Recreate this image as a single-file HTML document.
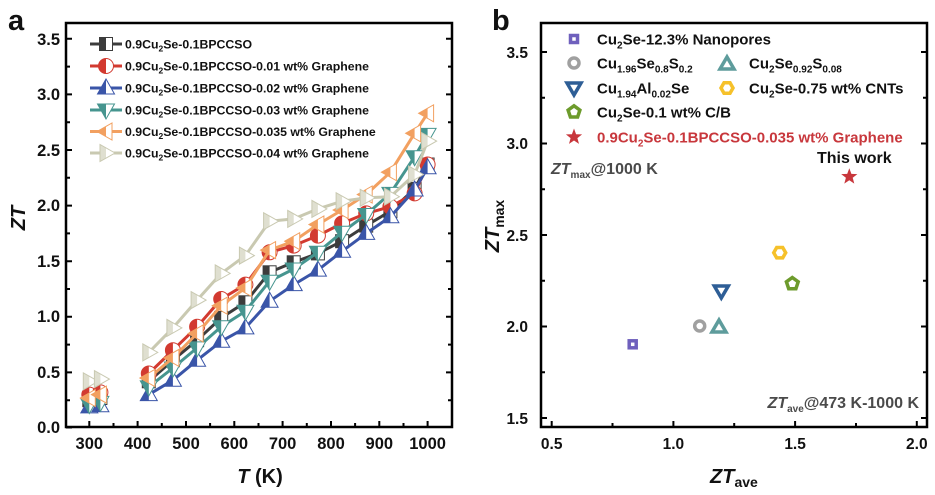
<!DOCTYPE html>
<html><head><meta charset="utf-8"><style>
html,body{margin:0;padding:0;background:#fff;}
svg{display:block;font-family:"Liberation Sans",Arial,sans-serif;}
</style></head><body>
<svg width="935" height="495" viewBox="0 0 935 495" xmlns="http://www.w3.org/2000/svg">
<defs>
<g id="mSq"><rect x="-6.5" y="-6.5" width="13" height="13" fill="#fff" stroke="currentColor" stroke-width="1"/><rect x="-6.5" y="-6.5" width="6.5" height="13" fill="currentColor"/></g>
<g id="mCi"><circle r="7.5" fill="#fff" stroke="currentColor" stroke-width="1"/><path d="M0,-7.5A7.5,7.5 0 0 0 0,7.5Z" fill="currentColor"/></g>
<g id="mUp"><polygon points="0,-9 8.5,6 -8.5,6" fill="#fff" stroke="currentColor" stroke-width="1"/><polygon points="0,-9 0,6 -8.5,6" fill="currentColor"/></g>
<g id="mDn"><polygon points="0,9 8.5,-6 -8.5,-6" fill="#fff" stroke="currentColor" stroke-width="1"/><polygon points="0,9 0,-6 -8.5,-6" fill="currentColor"/></g>
<g id="mLt"><polygon points="-9,0 6,-8.5 6,8.5" fill="#fff" stroke="currentColor" stroke-width="1"/><polygon points="-9,0 0,-5.1 0,5.1" fill="currentColor"/></g>
<g id="mRt"><polygon points="9,0 -6,-8.5 -6,8.5" fill="#fff" stroke="currentColor" stroke-width="1"/><polygon points="-6,-8.5 0,-5.1 0,5.1 -6,8.5" fill="currentColor" opacity="0.6"/></g>
</defs>

<!-- ================= PANEL A ================= -->
<text x="8" y="30" font-size="29" font-weight="bold" fill="#111">a</text>
<rect x="66" y="23" width="386" height="404" fill="none" stroke="#000" stroke-width="2.5"/>
<g stroke="#000" stroke-width="2">
<path d="M66,427.5h6M66,372.4h6M66,316.8h6M66,261.2h6M66,205.6h6M66,150h6M66,94.4h6M66,38.8h6"/>
<path d="M66,400.2h4M66,344.6h4M66,289h4M66,233.4h4M66,177.8h4M66,122.2h4M66,66.6h4"/>
<path d="M452,372.4h-6M452,316.8h-6M452,261.2h-6M452,205.6h-6M452,150h-6M452,94.4h-6M452,38.8h-6"/>
<path d="M452,400.2h-4M452,344.6h-4M452,289h-4M452,233.4h-4M452,177.8h-4M452,122.2h-4M452,66.6h-4"/>
<path d="M89.3,427v-6M137.6,427v-6M186,427v-6M234.3,427v-6M282.6,427v-6M331,427v-6M379.3,427v-6M427.6,427v-6"/>
<path d="M113.5,427v-4M161.8,427v-4M210.1,427v-4M258.5,427v-4M306.8,427v-4M355.1,427v-4M403.5,427v-4"/>
</g>
<g font-size="16.5" font-weight="bold" fill="#111" text-anchor="end">
<text x="60" y="433">0.0</text>
<text x="60" y="378">0.5</text>
<text x="60" y="322">1.0</text>
<text x="60" y="267">1.5</text>
<text x="60" y="211">2.0</text>
<text x="60" y="156">2.5</text>
<text x="60" y="100">3.0</text>
<text x="60" y="45">3.5</text>
</g>
<g font-size="16.5" font-weight="bold" fill="#111" text-anchor="middle">
<text x="89.3" y="449">300</text>
<text x="137.6" y="449">400</text>
<text x="186" y="449">500</text>
<text x="234.3" y="449">600</text>
<text x="282.6" y="449">700</text>
<text x="331" y="449">800</text>
<text x="379.3" y="449">900</text>
<text x="427.6" y="449">1000</text>
</g>
<text x="260" y="483" font-size="20" font-weight="bold" fill="#111" text-anchor="middle"><tspan font-style="italic">T</tspan> (K)</text>
<text transform="translate(25,218) rotate(-90)" font-size="20" font-weight="bold" font-style="italic" fill="#111" text-anchor="middle">ZT</text>

<!-- legend a -->
<g stroke-width="3" fill="none">
<path d="M90,44H122" stroke="#3c3c3c"/>
<path d="M90,66H122" stroke="#d23a30"/>
<path d="M90,88H122" stroke="#3a55a8"/>
<path d="M90,110H122" stroke="#46958f"/>
<path d="M90,131.5H122" stroke="#f2a060"/>
<path d="M90,153H122" stroke="#c9c9b1"/>
</g>
<use href="#mSq" x="106" y="44" style="color:#3c3c3c"/>
<use href="#mCi" x="106" y="66" style="color:#d23a30"/>
<use href="#mUp" x="106" y="88" style="color:#3a55a8"/>
<use href="#mDn" x="106" y="110" style="color:#46958f"/>
<use href="#mLt" x="106" y="131.5" style="color:#f2a060"/>
<use href="#mRt" x="106" y="153" style="color:#c9c9b1"/>
<g font-size="12.3" font-weight="bold" fill="#111">
<text x="125" y="48.5">0.9Cu<tspan font-size="8.5" dy="3">2</tspan><tspan dy="-3">Se-0.1BPCCSO</tspan></text>
<text x="125" y="70.5">0.9Cu<tspan font-size="8.5" dy="3">2</tspan><tspan dy="-3">Se-0.1BPCCSO-0.01 wt% Graphene</tspan></text>
<text x="125" y="92.5">0.9Cu<tspan font-size="8.5" dy="3">2</tspan><tspan dy="-3">Se-0.1BPCCSO-0.02 wt% Graphene</tspan></text>
<text x="125" y="114.5">0.9Cu<tspan font-size="8.5" dy="3">2</tspan><tspan dy="-3">Se-0.1BPCCSO-0.03 wt% Graphene</tspan></text>
<text x="125" y="136">0.9Cu<tspan font-size="8.5" dy="3">2</tspan><tspan dy="-3">Se-0.1BPCCSO-0.035 wt% Graphene</tspan></text>
<text x="125" y="157.5">0.9Cu<tspan font-size="8.5" dy="3">2</tspan><tspan dy="-3">Se-0.1BPCCSO-0.04 wt% Graphene</tspan></text>
</g>

<!-- series a -->
<g fill="none" stroke-width="3" stroke-linejoin="round" stroke="#3c3c3c">
<polyline points="89.3,400.2 100.4,398"/>
<polyline points="148.8,381.3 172.9,360.2 197.1,340.2 221.2,317.9 245.4,302.3 269.6,272.3 293.7,262.3 317.9,253.4 342.1,241.2 366.2,225.6 390.4,211.2 414.6,188.9 427.6,164.5"/>
</g>
<g style="color:#3c3c3c">
<use href="#mSq" x="89.3" y="400.2"/><use href="#mSq" x="100.4" y="398"/><use href="#mSq" x="148.8" y="381.3"/><use href="#mSq" x="172.9" y="360.2"/><use href="#mSq" x="197.1" y="340.2"/><use href="#mSq" x="221.2" y="317.9"/><use href="#mSq" x="245.4" y="302.3"/><use href="#mSq" x="269.6" y="272.3"/><use href="#mSq" x="293.7" y="262.3"/><use href="#mSq" x="317.9" y="253.4"/><use href="#mSq" x="342.1" y="241.2"/><use href="#mSq" x="366.2" y="225.6"/><use href="#mSq" x="390.4" y="211.2"/><use href="#mSq" x="414.6" y="188.9"/><use href="#mSq" x="427.6" y="164.5"/>
</g>

<g fill="none" stroke-width="3" stroke-linejoin="round" stroke="#d23a30">
<polyline points="89.3,394.6 100.4,392.4"/>
<polyline points="148.8,373.5 172.9,350.2 197.1,326.8 221.2,299 245.4,284.6 269.6,252.3 293.7,245.6 317.9,235.6 342.1,223.4 366.2,213.4 390.4,206.7 414.6,193.4 427.6,164.5"/>
</g>
<g style="color:#d23a30">
<use href="#mCi" x="89.3" y="394.6"/><use href="#mCi" x="100.4" y="392.4"/><use href="#mCi" x="148.8" y="373.5"/><use href="#mCi" x="172.9" y="350.2"/><use href="#mCi" x="197.1" y="326.8"/><use href="#mCi" x="221.2" y="299"/><use href="#mCi" x="245.4" y="284.6"/><use href="#mCi" x="269.6" y="252.3"/><use href="#mCi" x="293.7" y="245.6"/><use href="#mCi" x="317.9" y="235.6"/><use href="#mCi" x="342.1" y="223.4"/><use href="#mCi" x="366.2" y="213.4"/><use href="#mCi" x="390.4" y="206.7"/><use href="#mCi" x="414.6" y="193.4"/><use href="#mCi" x="427.6" y="164.5"/>
</g>

<g fill="none" stroke-width="3" stroke-linejoin="round" stroke="#3a55a8">
<polyline points="89.3,406.9 100.4,405.8"/>
<polyline points="148.8,394.6 172.9,380.2 197.1,360.2 221.2,341.3 245.4,327.9 269.6,301.2 293.7,284.6 317.9,270.1 342.1,251.2 366.2,233.4 390.4,216.7 414.6,190 427.6,167.8"/>
</g>
<g style="color:#3a55a8">
<use href="#mUp" x="89.3" y="406.9"/><use href="#mUp" x="100.4" y="405.8"/><use href="#mUp" x="148.8" y="394.6"/><use href="#mUp" x="172.9" y="380.2"/><use href="#mUp" x="197.1" y="360.2"/><use href="#mUp" x="221.2" y="341.3"/><use href="#mUp" x="245.4" y="327.9"/><use href="#mUp" x="269.6" y="301.2"/><use href="#mUp" x="293.7" y="284.6"/><use href="#mUp" x="317.9" y="270.1"/><use href="#mUp" x="342.1" y="251.2"/><use href="#mUp" x="366.2" y="233.4"/><use href="#mUp" x="390.4" y="216.7"/><use href="#mUp" x="414.6" y="190"/><use href="#mUp" x="427.6" y="167.8"/>
</g>

<g fill="none" stroke-width="3" stroke-linejoin="round" stroke="#46958f">
<polyline points="89.3,404.6 100.4,402.4"/>
<polyline points="148.8,386.9 172.9,368 197.1,347.9 221.2,326.8 245.4,311.2 269.6,281.2 293.7,269 317.9,252.3 342.1,232.3 366.2,214.5 390.4,193.4 414.6,156.7 427.6,134.4"/>
</g>
<g style="color:#46958f">
<use href="#mDn" x="89.3" y="404.6"/><use href="#mDn" x="100.4" y="402.4"/><use href="#mDn" x="148.8" y="386.9"/><use href="#mDn" x="172.9" y="368"/><use href="#mDn" x="197.1" y="347.9"/><use href="#mDn" x="221.2" y="326.8"/><use href="#mDn" x="245.4" y="311.2"/><use href="#mDn" x="269.6" y="281.2"/><use href="#mDn" x="293.7" y="269"/><use href="#mDn" x="317.9" y="252.3"/><use href="#mDn" x="342.1" y="232.3"/><use href="#mDn" x="366.2" y="214.5"/><use href="#mDn" x="390.4" y="193.4"/><use href="#mDn" x="414.6" y="156.7"/><use href="#mDn" x="427.6" y="134.4"/>
</g>

<g fill="none" stroke-width="3" stroke-linejoin="round" stroke="#f2a060">
<polyline points="89.3,398 100.4,394.6"/>
<polyline points="148.8,378 172.9,357.9 197.1,333.5 221.2,305.7 245.4,287.9 269.6,250.1 293.7,241.2 317.9,224.5 342.1,210 366.2,194.5 390.4,172.2 414.6,133.3 427.6,113.3"/>
</g>
<g style="color:#f2a060">
<use href="#mLt" x="89.3" y="398"/><use href="#mLt" x="100.4" y="394.6"/><use href="#mLt" x="148.8" y="378"/><use href="#mLt" x="172.9" y="357.9"/><use href="#mLt" x="197.1" y="333.5"/><use href="#mLt" x="221.2" y="305.7"/><use href="#mLt" x="245.4" y="287.9"/><use href="#mLt" x="269.6" y="250.1"/><use href="#mLt" x="293.7" y="241.2"/><use href="#mLt" x="317.9" y="224.5"/><use href="#mLt" x="342.1" y="210"/><use href="#mLt" x="366.2" y="194.5"/><use href="#mLt" x="390.4" y="172.2"/><use href="#mLt" x="414.6" y="133.3"/><use href="#mLt" x="427.6" y="113.3"/>
</g>

<g fill="none" stroke-width="3" stroke-linejoin="round" stroke="#c9c9b1">
<polyline points="89.3,381.3 100.4,379.1"/>
<polyline points="148.8,352.4 172.9,327.9 197.1,300.1 221.2,273.4 245.4,255.6 269.6,221.2 293.7,218.9 317.9,208.9 342.1,201.2 366.2,197.8 390.4,196.7 414.6,174.5 427.6,141.1"/>
</g>
<g style="color:#c9c9b1">
<use href="#mRt" x="89.3" y="381.3"/><use href="#mRt" x="100.4" y="379.1"/><use href="#mRt" x="148.8" y="352.4"/><use href="#mRt" x="172.9" y="327.9"/><use href="#mRt" x="197.1" y="300.1"/><use href="#mRt" x="221.2" y="273.4"/><use href="#mRt" x="245.4" y="255.6"/><use href="#mRt" x="269.6" y="221.2"/><use href="#mRt" x="293.7" y="218.9"/><use href="#mRt" x="317.9" y="208.9"/><use href="#mRt" x="342.1" y="201.2"/><use href="#mRt" x="366.2" y="197.8"/><use href="#mRt" x="390.4" y="196.7"/><use href="#mRt" x="414.6" y="174.5"/><use href="#mRt" x="427.6" y="141.1"/>
</g>

<!-- ================= PANEL B ================= -->
<text x="492" y="30" font-size="29" font-weight="bold" fill="#111">b</text>
<rect x="541" y="23" width="386" height="404" fill="none" stroke="#000" stroke-width="2.5"/>
<g stroke="#000" stroke-width="2">
<path d="M541,418h6M541,326.5h6M541,235h6M541,143.5h6M541,52h6"/>
<path d="M541,372.3h4M541,280.8h4M541,189.3h4M541,97.8h4"/>
<path d="M927,418h-6M927,326.5h-6M927,235h-6M927,143.5h-6M927,52h-6"/>
<path d="M927,372.3h-4M927,280.8h-4M927,189.3h-4M927,97.8h-4"/>
<path d="M551.7,427v-6M673.4,427v-6M795.1,427v-6M916.8,427v-6"/>
<path d="M612.5,427v-4M734.2,427v-4M856,427v-4"/>
</g>
<g font-size="15.5" font-weight="bold" fill="#111" text-anchor="end">
<text x="528" y="424">1.5</text>
<text x="528" y="332">2.0</text>
<text x="528" y="241">2.5</text>
<text x="528" y="149">3.0</text>
<text x="528" y="58">3.5</text>
</g>
<g font-size="15.5" font-weight="bold" fill="#111" text-anchor="middle">
<text x="551.7" y="449">0.5</text>
<text x="673.4" y="449">1.0</text>
<text x="795.1" y="449">1.5</text>
<text x="916.8" y="449">2.0</text>
</g>
<text x="710" y="483" font-size="20" font-weight="bold" fill="#111"><tspan font-style="italic">ZT</tspan><tspan font-size="14" dy="4">ave</tspan></text>
<text transform="translate(499,226) rotate(-90)" font-size="20" font-weight="bold" fill="#111" text-anchor="middle"><tspan font-style="italic">ZT</tspan><tspan font-size="14" dy="5">max</tspan></text>

<!-- legend b markers -->
<g fill="none" stroke-width="3.5" stroke-linejoin="miter">
<rect x="570.5" y="35.5" width="7" height="7" stroke="#6f60bd"/>
<circle cx="574" cy="63" r="5" stroke="#a0a0a0"/>
<polygon points="727,57 734,69 720,69" stroke="#5e9c9c"/>
<polygon points="567,83 581,83 574,95" stroke="#2e5e96"/>
<polygon points="733,88 730,93.2 724,93.2 721,88 724,82.8 730,82.8" stroke="#f6c12a"/>
<polygon points="574,105.8 579.9,110.1 577.6,117 570.4,117 568.1,110.1" stroke="#6d9b2c"/>
</g>
<polygon points="574,128.5 576.1,134.2 582.1,134.4 577.4,138.1 579,143.9 574,140.5 569,143.9 570.6,138.1 565.9,134.4 571.9,134.2" fill="#c8373c"/>
<g font-size="15" font-weight="bold" fill="#111">
<text x="597" y="44.5">Cu<tspan font-size="10" dy="4">2</tspan><tspan dy="-4">Se-12.3% Nanopores</tspan></text>
<text x="597" y="68.5">Cu<tspan font-size="10" dy="4">1.96</tspan><tspan dy="-4">Se</tspan><tspan font-size="10" dy="4">0.8</tspan><tspan dy="-4">S</tspan><tspan font-size="10" dy="4">0.2</tspan></text>
<text x="749" y="68.5">Cu<tspan font-size="10" dy="4">2</tspan><tspan dy="-4">Se</tspan><tspan font-size="10" dy="4">0.92</tspan><tspan dy="-4">S</tspan><tspan font-size="10" dy="4">0.08</tspan></text>
<text x="597" y="93.5">Cu<tspan font-size="10" dy="4">1.94</tspan><tspan dy="-4">Al</tspan><tspan font-size="10" dy="4">0.02</tspan><tspan dy="-4">Se</tspan></text>
<text x="749" y="93.5">Cu<tspan font-size="10" dy="4">2</tspan><tspan dy="-4">Se-0.75 wt% CNTs</tspan></text>
<text x="597" y="117.5">Cu<tspan font-size="10" dy="4">2</tspan><tspan dy="-4">Se-0.1 wt% C/B</tspan></text>
<text x="597" y="142.5" fill="#c8373c">0.9Cu<tspan font-size="10" dy="4">2</tspan><tspan dy="-4">Se-0.1BPCCSO-0.035 wt% Graphene</tspan></text>
</g>

<!-- annotations b -->
<text x="551" y="174" font-size="16" font-weight="bold" fill="#4a4a4a"><tspan font-style="italic">ZT</tspan><tspan font-size="10" dy="4">max</tspan><tspan dy="-4">@1000 K</tspan></text>
<text x="817" y="163" font-size="16" font-weight="bold" fill="#111">This work</text>
<text x="919" y="408" font-size="16" font-weight="bold" fill="#4a4a4a" text-anchor="end"><tspan font-style="italic">ZT</tspan><tspan font-size="10" dy="4">ave</tspan><tspan dy="-4">@473 K-1000 K</tspan></text>

<!-- data b -->
<g fill="none" stroke-width="3.5" stroke-linejoin="miter">
<rect x="629.2" y="340.8" width="7" height="7" stroke="#6f60bd"/>
<circle cx="699.7" cy="326" r="5" stroke="#a0a0a0"/>
<polygon points="719,320 726,332 712,332" stroke="#5e9c9c"/>
<polygon points="714.3,286 728.3,286 721.3,298" stroke="#2e5e96"/>
<polygon points="785.7,252.7 782.7,257.9 776.7,257.9 773.7,252.7 776.7,247.5 782.7,247.5" stroke="#f6c12a"/>
<polygon points="792.3,277.5 798.2,281.8 795.9,288.7 788.7,288.7 786.4,281.8" stroke="#6d9b2c"/>
</g>
<polygon points="849.3,168.2 851.4,173.9 857.4,174.1 852.7,177.8 854.3,183.6 849.3,180.2 844.3,183.6 845.9,177.8 841.2,174.1 847.2,173.9" fill="#c8373c"/>
</svg>
</body></html>
